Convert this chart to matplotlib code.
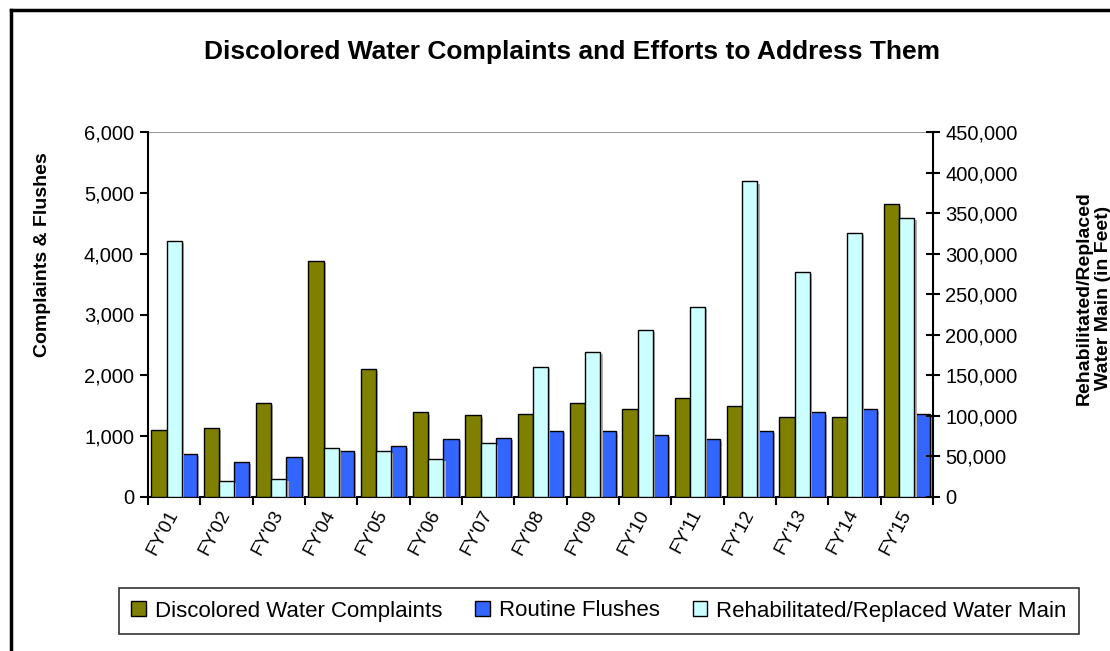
import matplotlib
matplotlib.use("Agg")
import matplotlib.pyplot as plt
import matplotlib.patheffects as pe
from matplotlib.lines import Line2D
from matplotlib.ticker import FuncFormatter, MultipleLocator
import numpy as np

plt.rcParams['font.family'] = ['Liberation Sans', 'DejaVu Sans']

years = ["FY'01", "FY'02", "FY'03", "FY'04", "FY'05", "FY'06", "FY'07", "FY'08",
         "FY'09", "FY'10", "FY'11", "FY'12", "FY'13", "FY'14", "FY'15"]
complaints = [1100, 1130, 1550, 3880, 2100, 1390, 1340, 1370, 1550, 1450, 1630, 1500, 1310, 1310, 4820]
flushes = [710, 580, 660, 760, 840, 950, 970, 1080, 1080, 1020, 950, 1080, 1390, 1450, 1360]
water_main = [316000, 20000, 22000, 61000, 57000, 47000, 67000, 160000, 179000, 206000,
              234000, 389000, 277000, 326000, 344000]

c_olive = '#808000'
c_blue = '#3366FF'
c_cyan = '#CCFFFF'

fig = plt.figure(figsize=(11.1, 6.51), dpi=100)
ax = fig.add_axes([148 / 1110, 1 - 497 / 651, (933 - 148) / 1110, (497 - 132) / 651])
ax2 = ax.twinx()

x = np.arange(len(years))
w = 0.29
shadow = [pe.SimplePatchShadow(offset=(1.5, -1.5), shadow_rgbFace='#b0b0b0', alpha=1.0), pe.Normal()]

b1 = ax.bar(x - w, complaints, w, color=c_olive, edgecolor='black', linewidth=1.0,
            label='Discolored Water Complaints', zorder=3)
b2 = ax.bar(x + w, flushes, w, color=c_blue, edgecolor='black', linewidth=1.0,
            label='Routine Flushes', zorder=3)
b3 = ax2.bar(x, water_main, w, color=c_cyan, edgecolor='black', linewidth=1.0,
             label='Rehabilitated/Replaced Water Main', zorder=3)
for bars in (b1, b2, b3):
    for p in bars:
        p.set_path_effects(shadow)

ax.set_xlim(-0.5, len(years) - 0.5)
ax.set_ylim(0, 6000)
ax2.set_ylim(0, 450000)

ax.yaxis.set_major_locator(MultipleLocator(1000))
ax2.yaxis.set_major_locator(MultipleLocator(50000))
fmt = FuncFormatter(lambda v, p: f"{int(v):,}")
ax.yaxis.set_major_formatter(fmt)
ax2.yaxis.set_major_formatter(fmt)

# top border line in gray
ax.axhline(6000, color='#999999', linewidth=1.5, zorder=1)

for a in (ax, ax2):
    a.spines['top'].set_visible(False)
ax.spines['right'].set_visible(False)
ax2.spines['left'].set_visible(False)
ax2.spines['bottom'].set_visible(False)
for s in ('left', 'bottom'):
    ax.spines[s].set_linewidth(1.5)
ax2.spines['right'].set_linewidth(1.5)

ax.tick_params(axis='y', direction='out', length=6, width=1.5, labelsize=14.5, pad=4)
ax2.tick_params(axis='y', direction='inout', length=10, width=1.5, labelsize=14.5, pad=4)

# category ticks between groups, labels under each group
ax.set_xticks(np.arange(-0.5, len(years), 1.0), minor=True)
ax.set_xticks(x)
ax.set_xticklabels(years, rotation=62, ha='right', va='center', rotation_mode='anchor', fontsize=13.5)
ax.tick_params(axis='x', which='major', length=0, pad=10)
ax.tick_params(axis='x', which='minor', direction='out', length=6, width=1.5)

ax.set_ylabel('Complaints & Flushes', fontsize=14, fontweight='bold')
ax.yaxis.set_label_coords(-0.123, 0.663)
ax2.set_ylabel('Rehabilitated/Replaced\nWater Main (in Feet)', fontsize=14, fontweight='bold',
               rotation=90, va='center', ha='center', linespacing=1.15)
ax2.yaxis.set_label_coords(1.205, 0.545)

fig.text(572 / 1110, 1 - 52 / 651, 'Discolored Water Complaints and Efforts to Address Them',
         ha='center', va='center', fontsize=19, fontweight='bold')

leg = fig.legend([b1, b2, b3], [b1.get_label(), b2.get_label(), b3.get_label()],
                 loc='center', bbox_to_anchor=(599 / 1110, 1 - 611 / 651), ncol=3,
                 fontsize=16, frameon=True, fancybox=False, edgecolor='black',
                 handlelength=0.65, handleheight=0.65, handletextpad=0.4, columnspacing=1.5,
                 borderpad=0.55)
leg.get_frame().set_linewidth(1.2)
for h in leg.legend_handles:
    h.set_path_effects([])

# outer chart frame (left and top edges inside the image)
fig.add_artist(Line2D([11 / 1110, 11 / 1110], [0, 1 - 10 / 651], transform=fig.transFigure,
                      color='black', linewidth=2.5))
fig.add_artist(Line2D([11 / 1110, 1], [1 - 10 / 651, 1 - 10 / 651], transform=fig.transFigure,
                      color='black', linewidth=2.5))

fig.savefig('out.png', dpi=100)
